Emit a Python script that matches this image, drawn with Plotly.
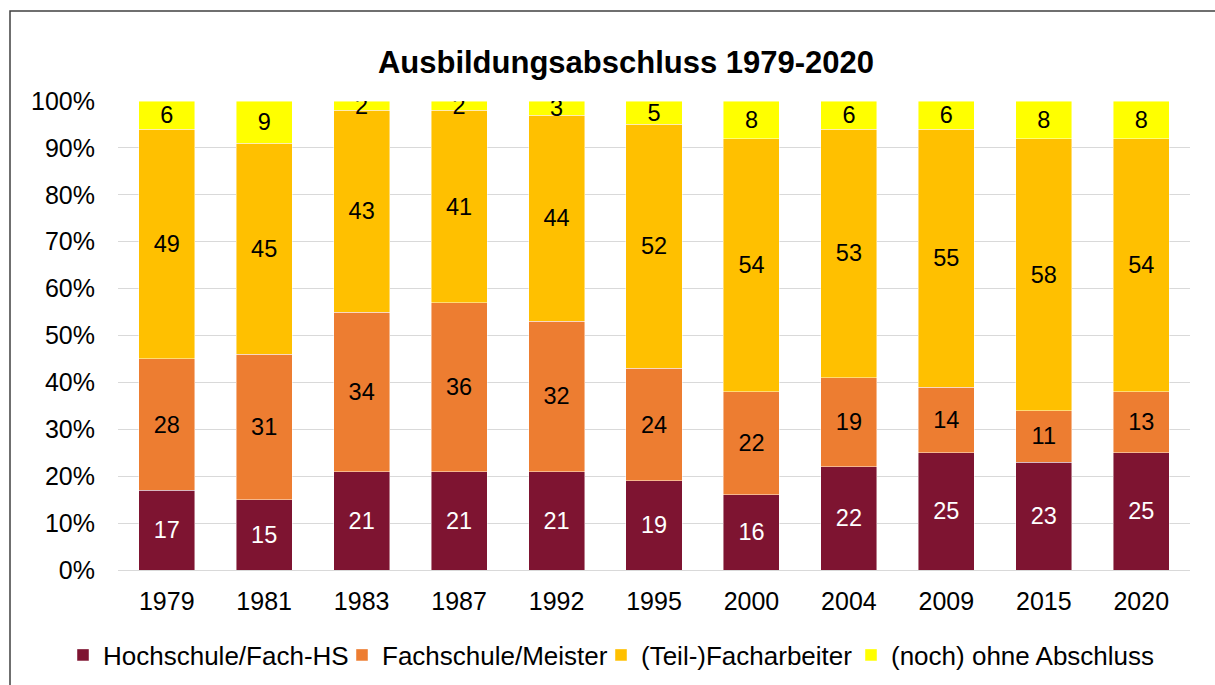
import plotly.graph_objects as go

years = ["1979", "1981", "1983", "1987", "1992", "1995", "2000", "2004", "2009", "2015", "2020"]
hochschule = [17, 15, 21, 21, 21, 19, 16, 22, 25, 23, 25]
fachschule = [28, 31, 34, 36, 32, 24, 22, 19, 14, 11, 13]
facharbeiter = [49, 45, 43, 41, 44, 52, 54, 53, 55, 58, 54]
ohne = [6, 9, 2, 2, 3, 5, 8, 6, 6, 8, 8]

series = [
    ("Hochschule/Fach-HS", hochschule, "#7E1431", "white", 234),
    ("Fachschule/Meister", fachschule, "#ED7D31", "black", 214),
    ("(Teil-)Facharbeiter", facharbeiter, "#FFC000", "black", 205),
    ("(noch) ohne Abschluss", ohne, "#FFFF00", "black", 270),
]

FONT = "Liberation Sans, Arial, sans-serif"

fig = go.Figure()
for name, vals, color, tcolor, lw in series:
    fig.add_trace(go.Bar(
        x=years, y=vals, name=name,
        marker=dict(color=color, line=dict(color="rgba(255,255,255,0.6)", width=0.75)),
        text=[str(v) for v in vals],
        textposition="inside",
        insidetextanchor="middle",
        textangle=0,
        textfont=dict(family=FONT, size=23.5, color=tcolor),
        legendwidth=lw,
        hoverinfo="x+y+name",
    ))

fig.update_layout(
    barmode="stack",
    bargap=0.425,
    width=1215, height=685,
    margin=dict(l=118, r=25, t=101, b=115, autoexpand=False),
    paper_bgcolor="white",
    plot_bgcolor="white",
    font=dict(family=FONT, size=25, color="black"),
    uniformtext=dict(mode="show", minsize=23.5),
    title=dict(
        text="<b>Ausbildungsabschluss 1979-2020</b>",
        x=626 / 1215, xanchor="center", xref="container",
        y=1 - 62 / 685, yanchor="middle", yref="container",
        font=dict(family=FONT, size=31, color="black"),
    ),
    showlegend=True,
    legend=dict(
        orientation="h",
        xref="paper", yref="paper",
        x=(63 - 118) / 1072, xanchor="left",
        y=(570 - 655) / 469, yanchor="middle",
        font=dict(family=FONT, size=26, color="black"),
        traceorder="normal",
        itemwidth=30,
        entrywidthmode="pixels",
    ),
)

fig.update_yaxes(
    range=[0, 100],
    tickvals=[0, 10, 20, 30, 40, 50, 60, 70, 80, 90, 100],
    ticktext=["0%", "10%", "20%", "30%", "40%", "50%", "60%", "70%", "80%", "90%", "100%"],
    showgrid=True, gridcolor="#D9D9D9", gridwidth=1,
    zeroline=False, showline=False,
    ticks="", ticklabelstandoff=22,
    tickfont=dict(family=FONT, size=25, color="black"),
)
fig.update_xaxes(
    showline=True, linecolor="#D9D9D9", linewidth=1,
    ticks="", ticklabelstandoff=9,
    tickfont=dict(family=FONT, size=25, color="black"),
)

# chart frame
fig.add_shape(
    type="rect", xref="paper", yref="paper",
    x0=(10 - 118) / 1072, x1=1.2,
    y0=-0.6, y1=1 + (101 - 11) / 469,
    line=dict(color="#404040", width=1.5),
    fillcolor="rgba(0,0,0,0)", layer="below",
)

fig.write_html(
    "out.html",
    config={"displayModeBar": False},
    post_script="document.body.style.margin='0';document.body.style.padding='0';",
)
